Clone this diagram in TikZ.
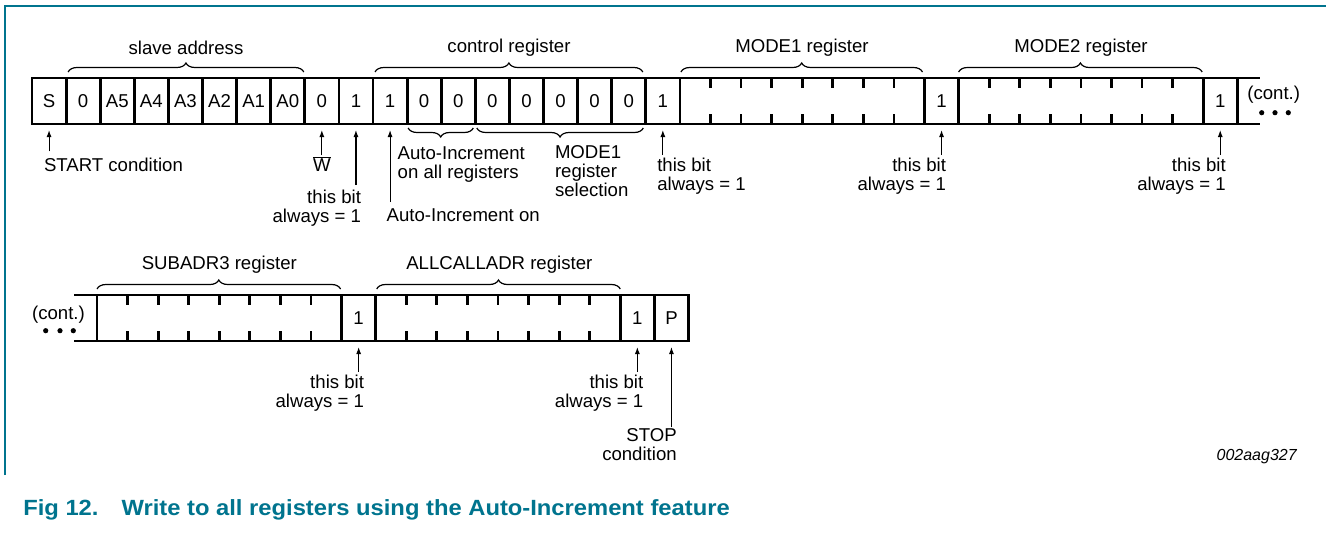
\documentclass[tikz,border=0pt]{standalone}
\usepackage{fontspec}
\setmainfont{Liberation Sans}
\newfontfamily\capfont[FakeStretch=1.08]{Liberation Sans}
\usetikzlibrary{decorations.pathreplacing,arrows.meta,calc}
\definecolor{nxpteal}{RGB}{0,116,142}
\begin{document}
\begin{tikzpicture}[x=1pt,y=1pt,
  every node/.style={font=\fontsize{18.6}{19}\selectfont, inner sep=0pt, outer sep=0pt},
  cell/.style={draw, line width=2.8pt, minimum width=34.1pt, minimum height=46pt},
  block/.style={draw, line width=2.8pt, minimum width=244.6pt, minimum height=46pt},
  tickline/.style={line width=2.8pt},
  openline/.style={line width=2.8pt},
  brc/.style={decorate, decoration={brace, amplitude=9pt}, line width=1.2pt},
  ubrc/.style={decorate, decoration={brace, mirror, amplitude=9pt}, line width=1.2pt},
  arr/.style={-{Latex[length=7pt,width=5pt]}, line width=1.1pt, shorten >=6pt},
  lbl/.style={align=left},
  rlbl/.style={align=right},
]
\useasboundingbox (0,0) rectangle (1326,-533);
% frame
\draw[nxpteal, line width=1.2pt] (5,-475) -- (5,-6) -- (1326,-6);

% ---------- row 1 ----------
\foreach \t [count=\i from 0] in {S,0,A5,A4,A3,A2,A1,A0,0,1,1,0,0,0,0,0,0,0,1}
  \node[cell] (a\i) at ({32+34.1*(\i+0.5)},-101) {\t};
\node[block] (m1) at (802.2,-101) {};
\node[cell] (b1) at (941.55,-101) {1};
\node[block] (m2) at (1080.9,-101) {};
\node[cell] (b2) at (1220.25,-101) {1};
\draw[openline] (b2.north east) -- ++(23,0);
\draw[openline] (b2.south east) -- ++(23,0);
\foreach \blk in {m1,m2}{
  \foreach \k in {1,...,7}{
    \draw[tickline] ($(\blk.north west)!\k/8!(\blk.north east)$) -- ++(0,-10);
    \draw[tickline] ($(\blk.south west)!\k/8!(\blk.south east)$) -- ++(0,10);
  }
}
% braces above
\draw[brc] ([xshift=2pt,yshift=6pt]a1.north west) -- ([xshift=-1pt,yshift=6pt]a7.north east);
\draw[brc] ([xshift=2pt,yshift=6pt]a10.north west) -- ([xshift=-3pt,yshift=6pt]a18.north west);
\draw[brc] ([xshift=1pt,yshift=6pt]m1.north west) -- ([xshift=-2pt,yshift=6pt]m1.north east);
\draw[brc] ([xshift=0pt,yshift=6pt]m2.north west) -- ([xshift=-1pt,yshift=6pt]m2.north east);
\node (lsa) at (186,-48) {slave address};
\node (lcr) at (509,-48) {control register};
\node (lm1) at (802,-48) {MODE1 register};
\node (lm2) at (1081,-48) {MODE2 register};
\node (cont1) at (1273.7,-95) {(cont.)};
\foreach \x in {1261.7,1275,1288.3} \fill (\x,-112.7) circle (2.6);

% braces below
\draw[ubrc] ([xshift=1pt,yshift=-4pt]a11.south west) -- ([xshift=-2pt,yshift=-4pt]a12.south east);
\draw[ubrc] ([xshift=1.5pt,yshift=-4pt]a13.south west) -- ([xshift=-2.5pt,yshift=-4pt]a17.south east);

% labels row 1
\node[anchor=base west] (lS) at (44,-171.6) {START condition};
\node[anchor=base] (lW) at (322,-171.6) {$\overline{\hbox{W}}$};
\node[rlbl, anchor=north east] (l9) at (361,-190.1) {this bit\\always = 1};
\node[anchor=base west] (l10) at (386.7,-221.6) {Auto-Increment on};
\node[lbl, anchor=north west] (lai) at (397.7,-146.4) {Auto-Increment\\on all registers};
\node[lbl, anchor=north west] (lms) at (555,-145.1) {MODE1\\register\\selection};
\node[lbl, anchor=north west] (l18) at (657.3,-158.4) {this bit\\always = 1};
\node[rlbl, anchor=north east] (lb1) at (946,-158.4) {this bit\\always = 1};
\node[rlbl, anchor=north east] (lb2) at (1225.7,-158.4) {this bit\\always = 1};

\draw[arr, shorten <=6.7pt] (a0.south |- lS.north) -- (a0.south);
\draw[arr, shorten <=1.5pt] (a8.south |- lW.north) -- (a8.south);
\draw[arr, shorten <=5pt] (a9.south |- l9.north) -- (a9.south);
\draw[arr, shorten <=6.7pt] (a10.south |- l10.north) -- (a10.south);
\draw[arr, shorten <=3.4pt] (a18.south |- l18.north) -- (a18.south);
\draw[arr, shorten <=3.4pt] (b1.south |- lb1.north) -- (b1.south);
\draw[arr, shorten <=3.4pt] (b2.south |- lb2.north) -- (b2.south);

% ---------- row 2 ----------
\node[block] (s1) at (219.3,-318) {};
\node[cell] (k1) at (358.65,-318) {1};
\node[block] (s2) at (498,-318) {};
\node[cell] (k2) at (637.35,-318) {1};
\node[cell] (kp) at (671.45,-318) {P};
\draw[openline] (s1.north west) -- ++(-23,0);
\draw[openline] (s1.south west) -- ++(-23,0);
\foreach \blk in {s1,s2}{
  \foreach \k in {1,...,7}{
    \draw[tickline] ($(\blk.north west)!\k/8!(\blk.north east)$) -- ++(0,-10);
    \draw[tickline] ($(\blk.south west)!\k/8!(\blk.south east)$) -- ++(0,10);
  }
}
\draw[brc] ([xshift=0pt,yshift=6pt]s1.north west) -- ([xshift=-1pt,yshift=6pt]s1.north east);
\draw[brc] ([xshift=1pt,yshift=6pt]s2.north west) -- ([xshift=0pt,yshift=6pt]s2.north east);
\node (ls1) at (219.3,-265) {SUBADR3 register};
\node (ls2) at (499.3,-265) {ALLCALLADR register};
\node (cont2) at (58.5,-315) {(cont.)};
\foreach \x in {45.7,60,73.3} \fill (\x,-330.7) circle (2.6);

\node[rlbl, anchor=north east] (lk1) at (364,-375.1) {this bit\\always = 1};
\node[rlbl, anchor=north east] (lk2) at (643.3,-375.1) {this bit\\always = 1};
\node[rlbl, anchor=north east] (lkp) at (676.7,-428.4) {STOP\\condition};
\draw[arr, shorten <=3.4pt] (k1.south |- lk1.north) -- (k1.south);
\draw[arr, shorten <=3.4pt] (k2.south |- lk2.north) -- (k2.south);
\draw[arr, shorten <=1pt] (kp.south |- lkp.north) -- (kp.south);

% id and caption
\node[anchor=base east, font=\fontsize{16}{16}\selectfont\itshape] (fid) at (1296.7,-460.7) {002aag327};
\node[anchor=base west, text=nxpteal, font=\capfont\bfseries\fontsize{22}{23}\selectfont] (cap) at (23.3,-515) {Fig 12.\hspace{23pt}Write to all registers using the Auto-Increment feature};
\end{tikzpicture}
\end{document}
